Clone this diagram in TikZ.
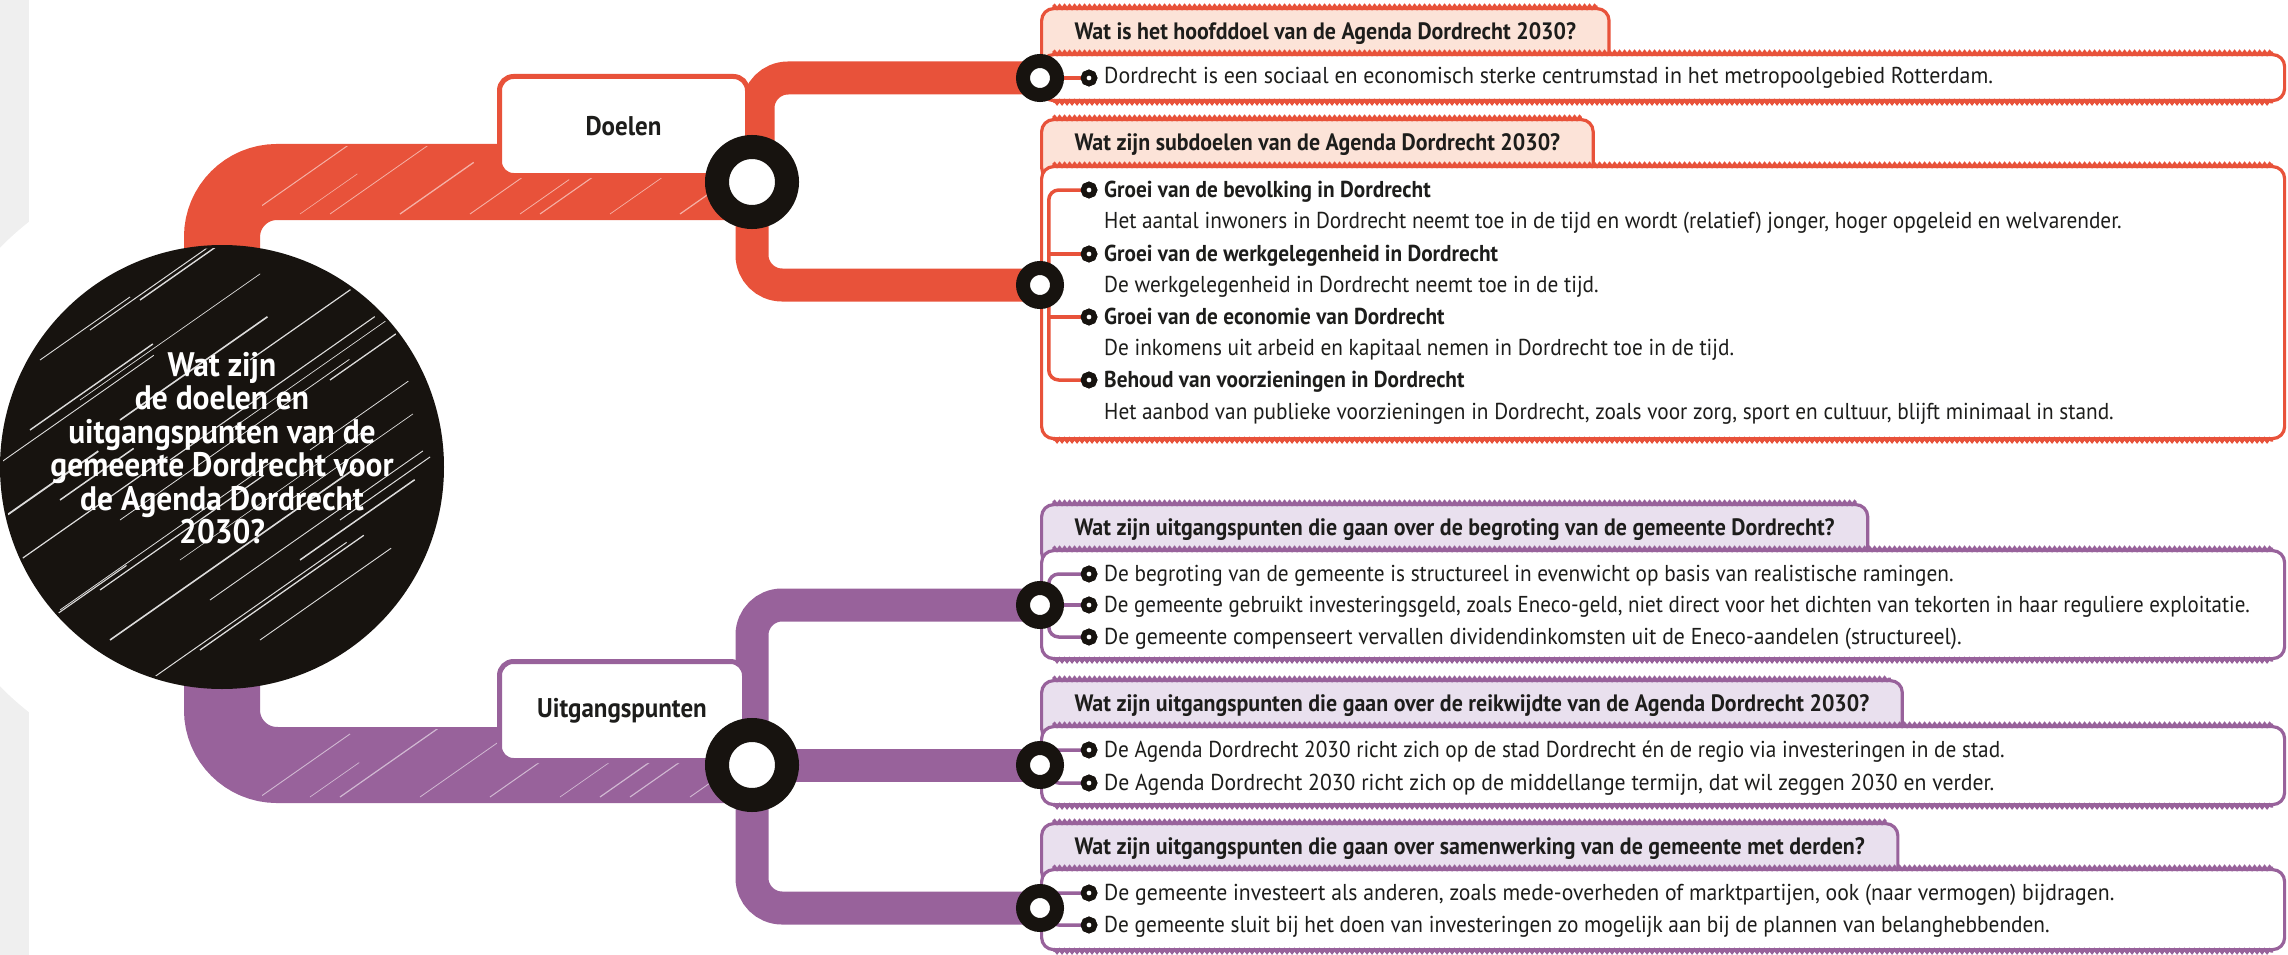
\documentclass[tikz,border=0pt]{standalone}
\usepackage{fontspec}
\usepackage{graphicx}
\setmainfont{PT Sans}[FakeStretch=0.925]
\usetikzlibrary{decorations.pathmorphing}
\definecolor{dred}{HTML}{E8523A}
\definecolor{dpur}{HTML}{98629B}
\definecolor{dpeach}{HTML}{FCE3D8}
\definecolor{dlav}{HTML}{E9E0EE}
\definecolor{dblk}{HTML}{17130F}
\definecolor{dgray}{HTML}{EFEFEF}
\definecolor{dtext}{HTML}{1D1D1B}
\tikzset{
  band/.style={draw=#1, line width=76pt, rounded corners=55pt},
  branch/.style={draw=#1, line width=33pt, rounded corners=30pt},
  conn/.style={draw=#1, line width=3.5pt, rounded corners=10pt},
  streak/.style={white, opacity=0.55},
  wavyline/.style={draw=#1, line width=2.6pt, decorate, decoration={snake, segment length=5pt, amplitude=1.6pt}},
  catbox/.style={draw=#1, fill=white, line width=5pt, rounded corners=14pt, minimum height=99pt, anchor=north west, text=dtext, font=\bfseries\fontsize{27}{30}\selectfont},
  bigring/.style={circle, draw=dblk, fill=white, line width=24pt, minimum size=70pt, inner sep=0pt},
  smallring/.style={circle, draw=dblk, fill=white, line width=14pt, minimum size=34pt, inner sep=0pt},
  hdr/.style 2 args={draw=#1, fill=#2, line width=3.2pt, rounded corners=12pt, anchor=north west, inner xsep=33pt, inner ysep=0pt, text height=31pt, text depth=29pt, text=dtext, font=\bfseries\fontsize{23.7}{27}\selectfont},
  cbox/.style={draw=#1, fill=white, line width=3.2pt, rounded corners=12pt, anchor=north west, minimum width=1243pt, inner sep=0pt},
  bul/.style={circle, draw=dblk, fill=white, line width=5.5pt, minimum size=11pt, inner sep=0pt},
  ctext/.style={anchor=base west, inner sep=0pt, text=dtext, font=\fontsize{23}{27}\selectfont},
  ctitle/.style={anchor=base west, inner sep=0pt, text=dtext, font=\bfseries\fontsize{23}{27}\selectfont}
}
\begin{document}
\begin{tikzpicture}[x=1pt,y=-1pt]
\useasboundingbox (0,0) rectangle (2288,955);
% background
\fill[dgray] (0,0) rectangle (29,955);
\fill[white] (222,467) circle [radius=312];

% positions
\node[circle, minimum size=444pt, inner sep=0pt] (q) at (222,467) {};
\coordinate (r1c) at (752,182);
\coordinate (r1u) at (758,182);
\coordinate (r2c) at (752,765);
\coordinate (s1c) at (1040,78);
\coordinate (s2c) at (1040,285);
\coordinate (s3c) at (1040,605);
\coordinate (s4c) at (1040,765);
\coordinate (s5c) at (1040,908);

% thick bands
\draw[band=dred] (q.center) |- (r1c);
\draw[band=dpur] (q.center) |- (r2c);
\draw[branch=dred] (r1u) |- (s1c);
\draw[branch=dred] (r1c) |- (s2c);
\draw[branch=dpur] (r2c) |- (s3c);
\draw[branch=dpur] (r2c) -- (s4c);
\draw[branch=dpur] (r2c) |- (s5c);

% light streaks on the bands
\begin{scope}
  \clip (262,146) rectangle (735,218);
  \foreach \sx/\len/\lw in {250/120/1.0, 330/160/0.8, 400/90/1.3, 470/140/0.9, 540/110/1.1, 610/150/0.7, 680/90/1.2, 300/70/0.6, 520/60/0.8}
    {\draw[streak, line width=\lw pt] (\sx,214) -- ++(35:\len pt);}
\end{scope}
\begin{scope}
  \clip (262,729) rectangle (735,801);
  \foreach \sx/\len/\lw in {260/110/0.9, 340/150/1.2, 420/100/0.8, 490/130/1.0, 560/120/0.7, 630/140/1.1, 690/80/0.9, 310/60/0.7, 600/70/1.2}
    {\draw[streak, line width=\lw pt] (\sx,797) -- ++(35:\len pt);}
\end{scope}

% central circle with scribble streaks
\fill[dblk] (q.center) circle [radius=222];
\begin{scope}
  \clip (q.center) circle [radius=219];
  \foreach \sx/\sy/\len/\lw in {
    20/560/180/1.2, 60/610/260/0.8, 110/640/300/1.6, 150/680/240/1.0,
    -10/470/200/0.9, 30/430/150/1.4, 80/400/220/0.7, 0/520/120/1.8,
    200/650/200/1.3, 260/640/160/0.9, 300/560/140/1.5, 120/520/280/0.8,
    170/460/250/1.1, 230/430/200/0.7, 90/330/160/1.0, 140/300/130/1.4,
    40/360/110/0.9, 250/360/170/1.2, 310/450/120/0.8, 330/380/100/1.3,
    180/560/230/0.6, 60/500/90/1.5, 210/600/260/0.9, 20/640/130/1.1,
    120/420/180/1.6, 290/500/150/0.7, 340/520/110/1.0, 100/590/200/1.2}
  {
    \draw[white, line width=\lw pt, opacity=0.85] (\sx,\sy) -- ++(35:\len pt);
  }
\end{scope}
\node[align=center, text=white, font=\bfseries\fontsize{34}{33.5}\selectfont] (qt) at (222,448) {Wat zijn\\de doelen en\\uitgangspunten van de\\gemeente Dordrecht voor\\de Agenda Dordrecht\\2030?};

% category boxes
\node[catbox=dred, minimum width=248pt] (doelen) at (497,74) {Doelen};
\node[catbox=dpur, minimum width=245pt] (uitg) at (497,659) {Uitgangspunten};
\node[bigring] (r1) at (r1c) {};
\node[bigring] (r2) at (r2c) {};

% ---------- red group ----------
\node[hdr={dred}{dpeach}] (h1) at (1040,7) {Wat is het hoofddoel van de Agenda Dordrecht 2030?};
\node[cbox=dred, minimum height=46pt] (c1) at (1040,53) {};
\node[hdr={dred}{dpeach}] (h2) at (1040,118) {Wat zijn subdoelen van de Agenda Dordrecht 2030?};
\node[cbox=dred, minimum height=272pt] (c2) at (1040,165) {};

% ---------- purple group ----------
\node[hdr={dpur}{dlav}] (h3) at (1040,503) {Wat zijn uitgangspunten die gaan over de begroting van de gemeente Dordrecht?};
\node[cbox=dpur, minimum height=108pt] (c3) at (1040,549) {};
\node[hdr={dpur}{dlav}] (h4) at (1040,679) {Wat zijn uitgangspunten die gaan over de reikwijdte van de Agenda Dordrecht 2030?};
\node[cbox=dpur, minimum height=78pt] (c4) at (1040,725) {};
\node[hdr={dpur}{dlav}] (h5) at (1040,822) {Wat zijn uitgangspunten die gaan over samenwerking van de gemeente met derden?};
\node[cbox=dpur, minimum height=80pt] (c5) at (1040,868) {};

% hand-drawn wavy edges
\foreach \n/\c in {h1/dred,h2/dred,h3/dpur,h4/dpur,h5/dpur}
  {\draw[wavyline=\c] ([xshift=13pt]\n.north west) -- ([xshift=-13pt]\n.north east);}
\foreach \n/\c in {c1/dred,c2/dred,c3/dpur,c4/dpur,c5/dpur}
  {\draw[wavyline=\c] ([xshift=13pt]\n.north west) -- ([xshift=-13pt]\n.north east);
   \draw[wavyline=\c] ([xshift=13pt]\n.south west) -- ([xshift=-13pt]\n.south east);}

\node[bul] (b11) at (1089,78) {};
\node[bul] (b21) at (1089,190) {};
\node[bul] (b22) at (1089,254) {};
\node[bul] (b23) at (1089,317) {};
\node[bul] (b24) at (1089,380) {};
\draw[conn=dred] (s1c) -- (b11.west);
\draw[conn=dred] (b21.west) -- ++(-32,0) |- (b24.west);
\draw[conn=dred] (b22.west) -- ++(-32,0);
\draw[conn=dred] (b23.west) -- ++(-32,0);
\foreach \b in {b11,b21,b22,b23,b24} {\node[bul] at (\b) {};}

\node[ctext] (t11) at (1104,84) {\scalebox{1.03}[1]{Dordrecht is een sociaal en economisch sterke centrumstad in het metropoolgebied Rotterdam.}};
\node[ctitle] (t21) at (1104,197) {Groei van de bevolking in Dordrecht};
\node[ctext] (d21) at (1104,228) {Het aantal inwoners in Dordrecht neemt toe in de tijd en wordt (relatief) jonger, hoger opgeleid en welvarender.};
\node[ctitle] (t22) at (1104,261) {Groei van de werkgelegenheid in Dordrecht};
\node[ctext] (d22) at (1104,292) {De werkgelegenheid in Dordrecht neemt toe in de tijd.};
\node[ctitle] (t23) at (1104,324) {Groei van de economie van Dordrecht};
\node[ctext] (d23) at (1104,355) {De inkomens uit arbeid en kapitaal nemen in Dordrecht toe in de tijd.};
\node[ctitle] (t24) at (1104,387) {Behoud van voorzieningen in Dordrecht};
\node[ctext] (d24) at (1104,419) {Het aanbod van publieke voorzieningen in Dordrecht, zoals voor zorg, sport en cultuur, blijft minimaal in stand.};

\node[bul] (b31) at (1089,574) {};
\node[bul] (b32) at (1089,605) {};
\node[bul] (b33) at (1089,637) {};
\node[bul] (b41) at (1089,750) {};
\node[bul] (b42) at (1089,783) {};
\node[bul] (b51) at (1089,893) {};
\node[bul] (b52) at (1089,925) {};
\draw[conn=dpur] (b31.west) -- ++(-32,0) |- (b33.west);
\draw[conn=dpur] (s3c) -- (b32.west);
\draw[conn=dpur] (b41.west) -- ++(-32,0) |- (b42.west);
\draw[conn=dpur] (b51.west) -- ++(-32,0) |- (b52.west);
\foreach \b in {b31,b32,b33,b41,b42,b51,b52} {\node[bul] at (\b) {};}

\node[ctext] (t31) at (1104,581) {De begroting van de gemeente is structureel in evenwicht op basis van realistische ramingen.};
\node[ctext] (t32) at (1104,612) {\scalebox{0.985}[1]{De gemeente gebruikt investeringsgeld, zoals Eneco-geld, niet direct voor het dichten van tekorten in haar reguliere exploitatie.}};
\node[ctext] (t33) at (1104,644) {\scalebox{1.02}[1]{De gemeente compenseert vervallen dividendinkomsten uit de Eneco-aandelen (structureel).}};
\node[ctext] (t41) at (1104,757) {De Agenda Dordrecht 2030 richt zich op de stad Dordrecht én de regio via investeringen in de stad.};
\node[ctext] (t42) at (1104,790) {\scalebox{1.02}[1]{De Agenda Dordrecht 2030 richt zich op de middellange termijn, dat wil zeggen 2030 en verder.}};
\node[ctext] (t51) at (1104,900) {\scalebox{1.02}[1]{De gemeente investeert als anderen, zoals mede-overheden of marktpartijen, ook (naar vermogen) bijdragen.}};
\node[ctext] (t52) at (1104,932) {De gemeente sluit bij het doen van investeringen zo mogelijk aan bij de plannen van belanghebbenden.};

% small rings on top
\node[smallring] (s1) at (s1c) {};
\node[smallring] (s2) at (s2c) {};
\node[smallring] (s3) at (s3c) {};
\node[smallring] (s4) at (s4c) {};
\node[smallring] (s5) at (s5c) {};
\end{tikzpicture}
\end{document}
